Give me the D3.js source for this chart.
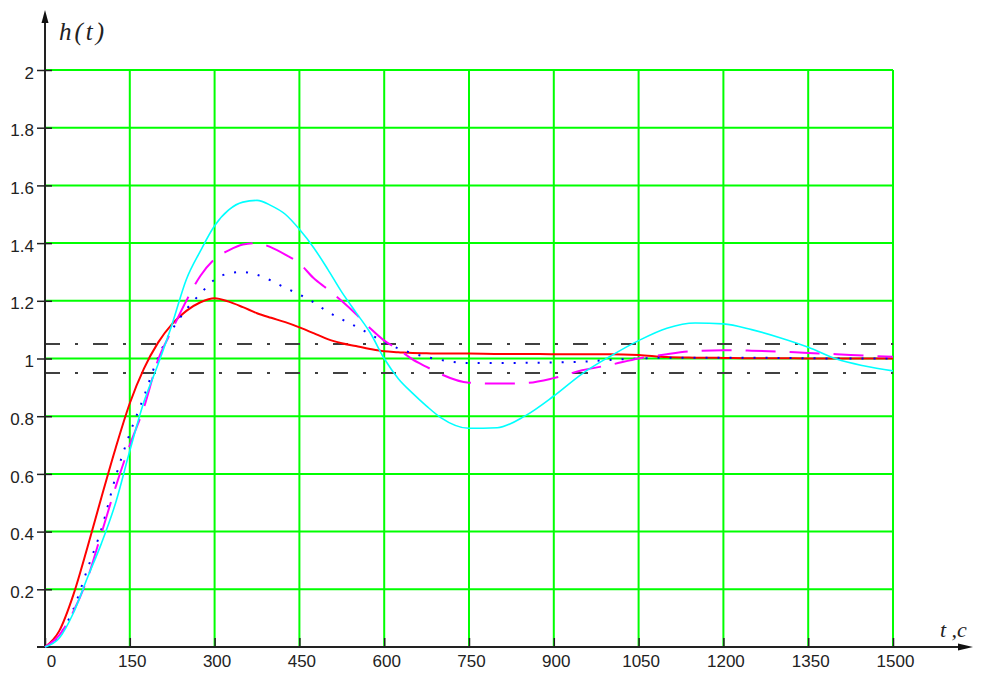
<!DOCTYPE html>
<html>
<head>
<meta charset="utf-8">
<script src="https://cdn.jsdelivr.net/npm/d3@7"></script>
<style>
  html, body { margin: 0; padding: 0; background: #fff; }
  svg { display: block; }
</style>
</head>
<body>
<svg id="chart"></svg>
<script>
// time samples (s) shared by all four responses
const time = [0,25,50,75,100,125,150,175,200,225,250,275,300,325,350,375,400,425,450,475,500,525,550,575,600,625,650,675,700,750,800,850,900,950,1000,1050,1100,1150,1200,1250,1300,1350,1400,1450,1500];

// h(t)
const hRed = [0,0.055,0.18,0.345,0.52,0.69,0.845,0.965,1.055,1.12,1.165,1.195,1.209,1.197,1.178,1.157,1.141,1.126,1.108,1.088,1.067,1.053,1.043,1.033,1.025,1.022,1.019,1.018,1.017,1.017,1.016,1.016,1.015,1.015,1.015,1.012,1.005,1.003,1.002,1.001,1.001,1.0,1.0,1.0,1.0];
const hBlue = [0,0.04,0.13,0.27,0.41,0.59,0.74,0.868,1.004,1.10,1.17,1.225,1.273,1.295,1.30,1.29,1.27,1.245,1.222,1.195,1.162,1.136,1.111,1.084,1.057,1.035,1.018,1.005,0.995,0.984,0.984,0.985,0.986,0.989,0.995,1.0,1.003,1.003,1.003,1.003,1.002,1.001,1.0,1.0,1.0];
const hMagenta = [0,0.04,0.122,0.237,0.395,0.555,0.70,0.83,0.995,1.10,1.20,1.287,1.345,1.375,1.395,1.40,1.385,1.36,1.33,1.279,1.24,1.199,1.154,1.105,1.062,1.032,0.997,0.971,0.946,0.916,0.913,0.915,0.932,0.959,0.978,1.0,1.015,1.026,1.029,1.027,1.024,1.019,1.015,1.01,1.006];
const hCyan = [0,0.03,0.117,0.24,0.36,0.5,0.68,0.85,0.98,1.12,1.274,1.373,1.46,1.515,1.542,1.548,1.53,1.5,1.448,1.385,1.31,1.23,1.16,1.09,1.0,0.93,0.88,0.835,0.795,0.758,0.76,0.802,0.87,0.947,1.008,1.062,1.105,1.123,1.12,1.1,1.072,1.039,0.998,0.974,0.957];

// +-5% band around steady state
const bandLevels = [1.05, 0.95];

const xTicks = [0,150,300,450,600,750,900,1050,1200,1350,1500];
const yTicks = [0.2,0.4,0.6,0.8,1,1.2,1.4,1.6,1.8,2];

const width = 982, height = 675;
const x = d3.scaleLinear().domain([0,1500]).range([45,893]);
const y = d3.scaleLinear().domain([0,2]).range([647,70]);

const svg = d3.select("#chart").attr("width", width).attr("height", height);

// green grid
svg.append("g")
    .attr("stroke", "#00ff00")
    .attr("stroke-width", 2)
    .selectAll("line")
    .data(xTicks.slice(1))
    .join("line")
    .attr("x1", d => x(d)).attr("x2", d => x(d))
    .attr("y1", y(2)).attr("y2", y(0));
svg.append("g")
    .attr("stroke", "#00ff00")
    .attr("stroke-width", 2)
    .selectAll("line")
    .data(yTicks)
    .join("line")
    .attr("x1", x(0)).attr("x2", x(1500))
    .attr("y1", d => y(d)).attr("y2", d => y(d));

// dash-dot tolerance lines
svg.append("g")
    .attr("stroke", "#404040")
    .attr("stroke-width", 2)
    .attr("stroke-dasharray", "15,15,3,15")
    .selectAll("line")
    .data(bandLevels)
    .join("line")
    .attr("x1", x(0)).attr("x2", x(1500))
    .attr("y1", d => y(d)).attr("y2", d => y(d));

// axes
const axisFont = "'Liberation Sans', Arial, sans-serif";
const xAxis = svg.append("g")
    .attr("transform", `translate(0,${y(0)})`)
    .call(d3.axisBottom(x).tickValues(xTicks).tickSizeInner(-9).tickSizeOuter(0).tickPadding(8).tickFormat(d => d));
xAxis.select(".domain").remove();
xAxis.selectAll(".tick line").attr("stroke", "#222").attr("stroke-width", 1.5);
xAxis.selectAll(".tick text")
    .attr("font-family", axisFont).attr("font-size", 17).attr("fill", "#222")
    .attr("dx", d => d === 0 ? 6 : 2);

const yAxis = svg.append("g")
    .attr("transform", `translate(${x(0)},0)`)
    .call(d3.axisLeft(y).tickValues(yTicks).tickSizeInner(8).tickSizeOuter(0).tickPadding(3).tickFormat(d => d));
yAxis.select(".domain").remove();
yAxis.selectAll(".tick line").attr("x1", 7).attr("stroke", "#222").attr("stroke-width", 1.5);
yAxis.selectAll(".tick text")
    .attr("font-family", axisFont).attr("font-size", 17).attr("fill", "#222")
    .attr("dy", "0.48em");

// axis lines with arrows
svg.append("line").attr("x1", x(0)).attr("x2", x(0)).attr("y1", 14).attr("y2", y(0) + 1)
    .attr("stroke", "#222").attr("stroke-width", 2);
svg.append("line").attr("x1", 37).attr("x2", 968).attr("y1", y(0)).attr("y2", y(0))
    .attr("stroke", "#222").attr("stroke-width", 2);
svg.append("path").attr("d", `M${x(0)},10 L${x(0) - 3.5},23 L${x(0) + 3.5},23 Z`).attr("fill", "#111");
svg.append("path").attr("d", `M973,${y(0)} L958,${y(0) - 3.5} L958,${y(0) + 3.5} Z`).attr("fill", "#111");

// response curves
const line = d3.line()
    .x((d, i) => x(time[i]))
    .y(d => y(d))
    .curve(d3.curveMonotoneX);

const series = [
  { values: hRed, color: "#ff0000", width: 2, dash: null },
  { values: hBlue, color: "#0000ff", width: 2, dash: "2,10" },
  { values: hMagenta, color: "#ff00ff", width: 2, dash: "30,14" },
  { values: hCyan, color: "#00ffff", width: 1.6, dash: null }
];

svg.append("g")
    .attr("fill", "none")
    .selectAll("path")
    .data(series)
    .join("path")
    .attr("stroke", d => d.color)
    .attr("stroke-width", d => d.width)
    .attr("stroke-dasharray", d => d.dash)
    .attr("d", d => line(d.values));

// axis titles
svg.append("text")
    .attr("x", 59).attr("y", 40)
    .attr("font-family", "'Liberation Serif', 'Times New Roman', serif")
    .attr("font-style", "italic").attr("font-size", 25)
    .attr("letter-spacing", 3).attr("fill", "#222")
    .text("h(t)");
svg.append("text")
    .attr("x", 940).attr("y", 637)
    .attr("font-family", "'Liberation Serif', 'Times New Roman', serif")
    .attr("font-style", "italic").attr("font-size", 22)
    .attr("fill", "#222")
    .text("t ,c");
</script>
</body>
</html>
